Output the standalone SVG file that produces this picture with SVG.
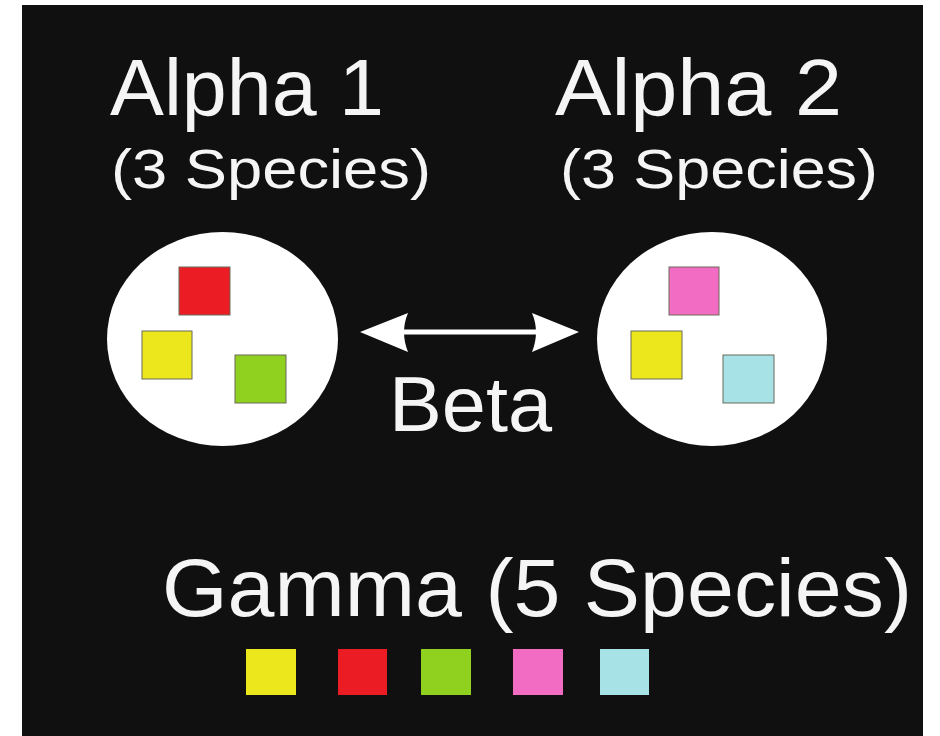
<svg xmlns="http://www.w3.org/2000/svg" width="940" height="736" viewBox="0 0 940 736">
  <defs>
    <style>
      .lbl { font-family: "Liberation Sans", Arial, sans-serif; fill: #f5f5f5; }
      .pool { fill: #ffffff; }
      .sp { stroke: #6a6a5a; stroke-width: 1; }
      .key { stroke: none; }
      .red { fill: #ec1c24; }
      .yellow { fill: #ece61c; }
      .green { fill: #90d01e; }
      .pink { fill: #f26cc4; }
      .cyan { fill: #a6e2e6; }
      .arrow { fill: #ffffff; }
    </style>
  </defs>

  <!-- page and dark panel -->
  <rect x="0" y="0" width="940" height="736" fill="#ffffff"/>
  <rect x="22" y="5" width="901" height="731" fill="#111010"/>

  <!-- site 1 -->
  <g id="alpha1">
    <text class="lbl" x="110" y="115" font-size="79" textLength="274" lengthAdjust="spacingAndGlyphs">Alpha 1</text>
    <text class="lbl" x="111" y="188" font-size="56" textLength="320" lengthAdjust="spacingAndGlyphs">(3 Species)</text>
    <ellipse class="pool" cx="222.5" cy="339" rx="115.5" ry="107"/>
    <rect class="sp red" x="179" y="267" width="51" height="48"/>
    <rect class="sp yellow" x="142" y="331" width="50" height="48"/>
    <rect class="sp green" x="235" y="355" width="51" height="48"/>
  </g>

  <!-- site 2 -->
  <g id="alpha2">
    <text class="lbl" x="555" y="115" font-size="79" textLength="287" lengthAdjust="spacingAndGlyphs">Alpha 2</text>
    <text class="lbl" x="560" y="188" font-size="56" textLength="318" lengthAdjust="spacingAndGlyphs">(3 Species)</text>
    <ellipse class="pool" cx="712" cy="339" rx="115" ry="107"/>
    <rect class="sp pink" x="669" y="267" width="50" height="48"/>
    <rect class="sp yellow" x="631" y="331" width="51" height="48"/>
    <rect class="sp cyan" x="723" y="355" width="51" height="48"/>
  </g>

  <!-- turnover between sites -->
  <g id="connectors">
    <g id="beta-arrow">
      <rect class="arrow" x="400" y="329.5" width="136" height="5"/>
      <path class="arrow" d="M360,332 L408,313 Q400,332 408,352 Z"/>
      <path class="arrow" d="M579,332 L532,313 Q540,332 532,352 Z"/>
    </g>
  </g>
  <g id="beta">
    <text class="lbl" x="389" y="431" font-size="77" textLength="163" lengthAdjust="spacingAndGlyphs">Beta</text>
  </g>

  <!-- regional pool -->
  <g id="gamma">
    <text class="lbl" x="162" y="616" font-size="82" textLength="750" lengthAdjust="spacingAndGlyphs">Gamma (5 Species)</text>
    <rect class="key yellow" x="246" y="649" width="50" height="46"/>
    <rect class="key red" x="338" y="649" width="49" height="46"/>
    <rect class="key green" x="421" y="649" width="50" height="46"/>
    <rect class="key pink" x="513" y="649" width="50" height="46"/>
    <rect class="key cyan" x="600" y="649" width="49" height="46"/>
  </g>
</svg>
